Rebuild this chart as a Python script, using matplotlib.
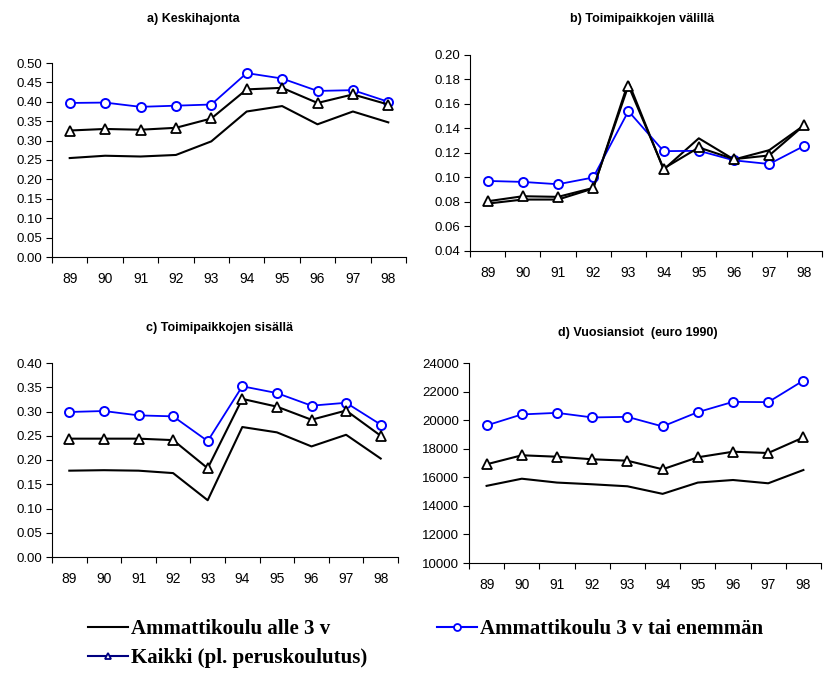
import numpy as np
import matplotlib
matplotlib.use("Agg")
import matplotlib.pyplot as plt
from matplotlib.lines import Line2D
from matplotlib.ticker import FixedLocator, FormatStrFormatter

years = ["89", "90", "91", "92", "93", "94", "95", "96", "97", "98"]

labels = ["Ammattikoulu alle 3 v",
          "Ammattikoulu 3 v tai enemmän",
          "Kaikki (pl. peruskoulutus)"]

# a) Keskihajonta
a_alle = [0.255, 0.261, 0.259, 0.263, 0.298, 0.375, 0.389, 0.342, 0.375, 0.347]
a_yli = [0.397, 0.398, 0.387, 0.390, 0.393, 0.474, 0.460, 0.428, 0.430, 0.400]
a_kaikki = [0.326, 0.330, 0.328, 0.333, 0.357, 0.432, 0.436, 0.397, 0.419, 0.393]

# b) Toimipaikkojen välillä
b_alle = [0.0787, 0.082, 0.082, 0.091, 0.178, 0.1065, 0.132, 0.1147, 0.1223, 0.1428]
b_yli = [0.0972, 0.0964, 0.0945, 0.100, 0.1542, 0.1215, 0.1218, 0.114, 0.111, 0.1259]
b_kaikki = [0.0806, 0.0847, 0.0842, 0.0915, 0.175, 0.1073, 0.1245, 0.115, 0.118, 0.1428]

# c) Toimipaikkojen sisällä
c_alle = [0.178, 0.179, 0.178, 0.173, 0.117, 0.268, 0.257, 0.228, 0.252, 0.203]
c_yli = [0.299, 0.301, 0.292, 0.290, 0.239, 0.352, 0.338, 0.312, 0.318, 0.273]
c_kaikki = [0.244, 0.244, 0.244, 0.241, 0.183, 0.326, 0.310, 0.283, 0.302, 0.250]

# d) Vuosiansiot (euro 1990)
d_alle = [15400, 15900, 15630, 15510, 15370, 14840, 15630, 15810, 15580, 16510]
d_yli = [19630, 20400, 20510, 20190, 20230, 19560, 20560, 21280, 21260, 22770]
d_kaikki = [16910, 17540, 17440, 17260, 17160, 16560, 17400, 17790, 17700, 18790]

panels = [
    ("a) Keskihajonta", a_alle, a_yli, a_kaikki, (0.0, 0.5), 0.05, "%.2f"),
    ("b) Toimipaikkojen välillä", b_alle, b_yli, b_kaikki, (0.04, 0.20), 0.02, "%.2f"),
    ("c) Toimipaikkojen sisällä", c_alle, c_yli, c_kaikki, (0.0, 0.40), 0.05, "%.2f"),
    ("d) Vuosiansiot  (euro 1990)", d_alle, d_yli, d_kaikki, (10000, 24000), 2000, "%d"),
]

W, H = 825, 678
# axes boxes in pixels: left, top, right, bottom
boxes = [(52, 63, 406, 257), (470, 55, 822, 251),
         (52, 363, 398, 557), (469, 363, 821, 563)]
title_pos = [(193, 19), (642, 19), (220, 328), (638, 333)]

plt.rcParams['font.family'] = ['Liberation Sans', 'DejaVu Sans']

fig = plt.figure(figsize=(W / 100, H / 100), dpi=100)
x = np.arange(len(years))

for (title, alle, yli, kaikki, ylim, step, fmt), box, tp in zip(panels, boxes, title_pos):
    l, t, r, b = box
    ax = fig.add_axes([l / W, 1 - b / H, (r - l) / W, (b - t) / H])
    ax.plot(x, alle, color="black", lw=1.5, zorder=3)
    ax.plot(x, yli, color="#0000ff", lw=1.3, marker="o", markersize=6.5,
            markerfacecolor="white", markeredgecolor="#0000ff", markeredgewidth=1.4, zorder=4)
    ax.plot(x, kaikki, color="black", lw=1.5, marker="^", markersize=7.5,
            markerfacecolor="white", markeredgecolor="black", markeredgewidth=1.3, zorder=5)
    ax.set_xlim(-0.5, len(years) - 0.5)
    ax.set_ylim(*ylim)
    # ticks between categories, labels at the centres
    ax.xaxis.set_major_locator(FixedLocator(np.arange(-0.5, len(years), 1.0)))
    ax.xaxis.set_minor_locator(FixedLocator(x))
    ax.set_xticklabels([])
    ax.set_xticklabels(years, minor=True)
    ax.tick_params(axis="x", which="major", direction="out", length=4, width=0.8)
    ax.tick_params(axis="x", which="minor", length=0, pad=11, labelsize=10)
    ax.set_yticks(np.arange(ylim[0], ylim[1] + step / 2, step))
    ax.yaxis.set_major_formatter(FormatStrFormatter(fmt))
    ax.tick_params(axis="y", direction="out", length=4, width=0.8, labelsize=9.5, pad=3)
    ax.spines["top"].set_visible(False)
    ax.spines["right"].set_visible(False)
    ax.spines["left"].set_linewidth(0.8)
    ax.spines["bottom"].set_linewidth(0.8)
    ax.patch.set_alpha(0)
    fig.text(tp[0] / W, 1 - tp[1] / H, title, ha="center", va="center",
             fontsize=9, fontweight="bold")

h_alle = Line2D([], [], color="black", lw=1.5)
h_yli = Line2D([], [], color="#0000ff", lw=1.5, marker="o", markersize=5,
               markerfacecolor="white", markeredgecolor="#0000ff", markeredgewidth=1.3)
h_kaikki = Line2D([], [], color="#000080", lw=1.5, marker="^", markersize=5,
                  markerfacecolor="white", markeredgecolor="#000080", markeredgewidth=1.3)

legend_font = {"family": ["Liberation Serif", "DejaVu Serif"], "weight": "bold", "size": 15}
leg1 = fig.legend([h_alle, h_kaikki], [labels[0], labels[2]], loc="upper left",
                  bbox_to_anchor=(88 / W, 1 - 619 / H), frameon=False, prop=legend_font,
                  borderpad=0, borderaxespad=0, handlelength=1.9, handletextpad=0.15,
                  labelspacing=0.45)
leg2 = fig.legend([h_yli], [labels[1]], loc="upper left",
                  bbox_to_anchor=(437 / W, 1 - 619 / H), frameon=False, prop=legend_font,
                  borderpad=0, borderaxespad=0, handlelength=1.9, handletextpad=0.15)

fig.savefig("out.png", dpi=100)
